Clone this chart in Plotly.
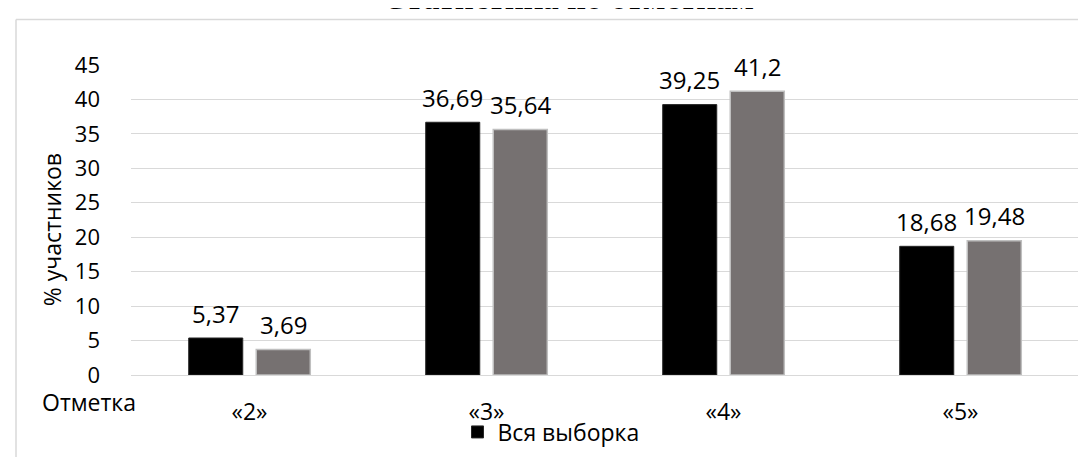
import plotly.graph_objects as go

categories = ["«2»", "«3»", "«4»", "«5»"]
all_sample = [5.37, 36.69, 39.25, 18.68]
region = [3.69, 35.64, 41.2, 19.48]
y_ticks = [0, 5, 10, 15, 20, 25, 30, 35, 40, 45]

def fmt(v):
    return ("%g" % v).replace(".", ",")

FONT = "Open Sans"
L, R, T, B = 123, 15, 57, 79
W, H = 1086, 457
pw, ph = W - L - R, H - T - B
BARGAP = 0.43
slot = pw / len(categories) * (1 - BARGAP) / 2

def px(x):
    return (x - L) / pw

def py(y):
    return (H - B - y) / ph

fig = go.Figure()
fig.add_trace(go.Bar(
    x=categories, y=all_sample, name="Вся выборка",
    marker=dict(color="#000000", line=dict(color="#262626", width=1)),
))
fig.add_trace(go.Bar(
    x=categories, y=region, name="Регион", showlegend=False,
    marker=dict(color="#767171", line=dict(color="#BFBFBF", width=1.5)),
))

annotations = []
for series, shift in ((all_sample, -slot / 2), (region, slot / 2)):
    for c, v in zip(categories, series):
        annotations.append(dict(
            x=c, y=v, xref="x", yref="y", text=fmt(v), showarrow=False,
            xshift=shift, yshift=25, xanchor="center", yanchor="middle",
            font=dict(size=24, color="#000000", family=FONT)))

annotations += [
    dict(text="<b>Статистика по отметкам</b>", xref="paper", yref="paper", x=px(560), y=py(-12),
         xanchor="center", yanchor="middle", showarrow=False,
         font=dict(family="Liberation Serif", size=33, color="#000000")),
    dict(text="% участников", xref="paper", yref="paper", x=px(44), y=py(228),
         xanchor="center", yanchor="middle", textangle=-90, showarrow=False,
         font=dict(size=23)),
    dict(text="Отметка", xref="paper", yref="paper", x=px(81), y=py(406),
         xanchor="center", yanchor="middle", showarrow=False, font=dict(size=23)),
]

fig.update_layout(
    width=W, height=H,
    margin=dict(l=L, r=R, t=T, b=B, pad=0),
    paper_bgcolor="white", plot_bgcolor="white",
    barmode="group", bargap=BARGAP, bargroupgap=0.2,
    font=dict(family=FONT, size=22, color="#000000"),
    showlegend=True,
    legend=dict(orientation="h", x=px(543), y=py(437), xanchor="center", yanchor="middle",
                font=dict(size=23), bgcolor="rgba(0,0,0,0)"),
    xaxis=dict(showline=True, linecolor="#D9D9D9", linewidth=1, ticks="",
               tickfont=dict(size=23), ticklabelstandoff=16, fixedrange=True),
    yaxis=dict(range=[0, 45], tickvals=y_ticks, showgrid=True, gridcolor="#D9D9D9",
               gridwidth=1, zeroline=False, showline=False, ticks="",
               tickfont=dict(size=22), ticklabelstandoff=30),
    shapes=[
        dict(type="line", xref="paper", yref="paper", x0=px(8), x1=px(1100), y0=py(10), y1=py(10),
             line=dict(color="#D9D9D9", width=1.5)),
        dict(type="line", xref="paper", yref="paper", x0=px(8), x1=px(8), y0=py(10), y1=py(470),
             line=dict(color="#D9D9D9", width=1.5)),
    ],
    annotations=annotations,
)

fig.write_html("out.html")
